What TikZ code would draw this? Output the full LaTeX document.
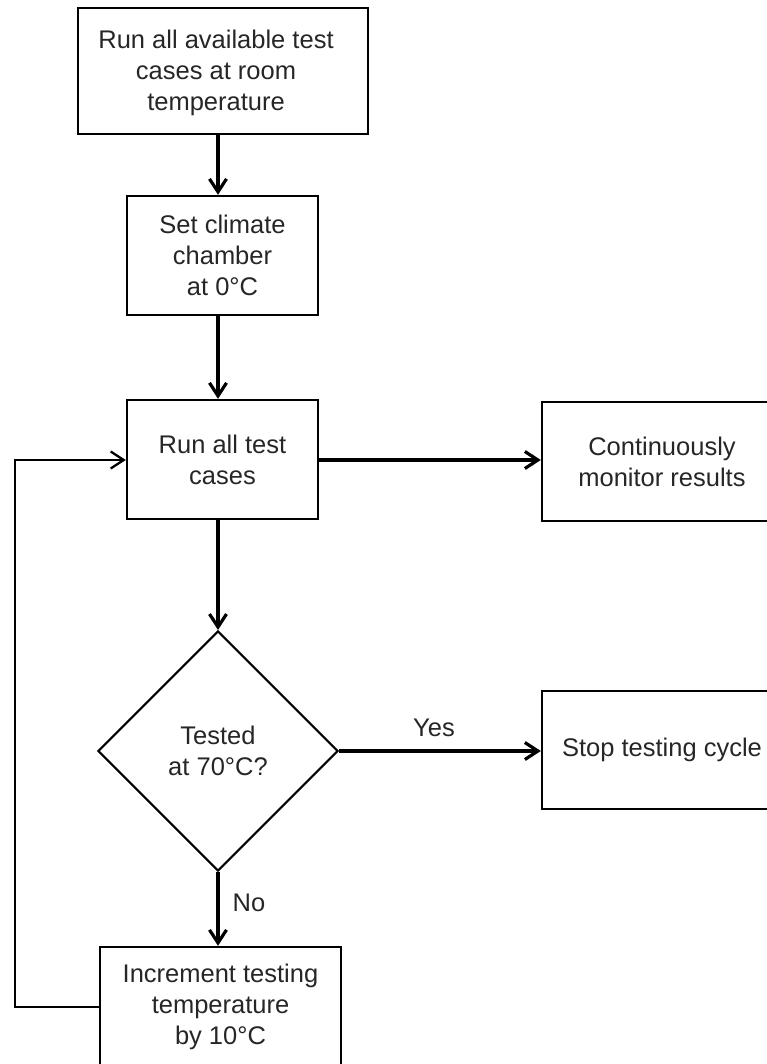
\documentclass[tikz,border=0pt]{standalone}
\usepackage{fontspec}
\setmainfont{Liberation Sans}
\usetikzlibrary{arrows.meta,shapes.geometric}
\definecolor{txt}{RGB}{38,38,38}
\begin{document}
\begin{tikzpicture}[x=1pt,y=-1pt,
  lbl/.style={text=txt, font=\fontsize{25.5}{31}\selectfont, inner sep=0pt},
  box/.style={draw=black, line width=2.4pt, rectangle, inner sep=0pt, align=center, lbl},
  dec/.style={draw=black, line width=2.1pt, diamond, aspect=1, inner sep=0pt, align=center, lbl,
              minimum width=240pt, minimum height=240pt},
  arr/.style={draw=black, line width=3.2pt, -{Straight Barb[length=13pt,width=17pt]}},
  back/.style={draw=black, line width=2.3pt, -{Straight Barb[length=13pt,width=17pt]}}]
\useasboundingbox (0,0) rectangle (766,1064);

\node[box, minimum width=290pt, minimum height=126pt,
  label={[lbl, align=center, xshift=-7pt, yshift=-2pt]center:Run all available test\\cases at room\\temperature}]
  (b1) at (223,71) {};
\node[box, minimum width=191pt, minimum height=119pt] (b2) at (222.5,255.5) {Set climate\\chamber\\at 0°C};
\node[box, minimum width=191pt, minimum height=119pt] (b3) at (222.5,459.5) {Run all test\\cases};
\node[box, minimum width=240pt, minimum height=119pt] (b4) at (662,461.5) {Continuously\\monitor results};
\node[dec] (d) at (218,751) {Tested\\at 70°C?};
\node[box, minimum width=240pt, minimum height=118pt] (b5) at (662,750) {Stop testing cycle};
\node[box, minimum width=241pt, minimum height=120pt] (b6) at (220.5,1007) {Increment testing\\temperature\\by 10°C};

\node[lbl] (yes) at (434,728) {Yes};
\node[lbl] (no) at (249,903) {No};

\coordinate (ax) at (218,0);
\coordinate (lp) at (15,460);

\draw[arr] (b1.south -| ax) -- (b2.north -| ax);
\draw[arr] (b2.south -| ax) -- (b3.north -| ax);
\draw[arr] (b3.south -| ax) -- (d.north);
\draw[arr] (b3.east |- lp) -- (b4.west |- lp);
\draw[arr] (d.east) -- (b5.west |- d.east);
\draw[arr] (d.south) -- (b6.north -| d.south);
\draw[back] (b6.west) -| (lp) -- (b3.west |- lp);
\end{tikzpicture}
\end{document}
